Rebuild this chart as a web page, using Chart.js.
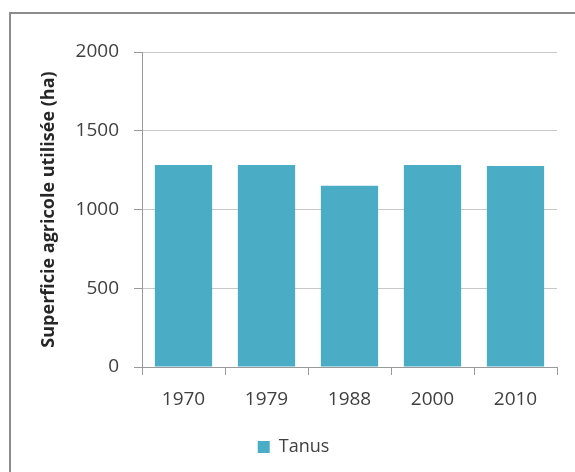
<!DOCTYPE html>
<html>
<head>
<meta charset="utf-8">
<script src="https://cdn.jsdelivr.net/npm/chart.js@4/dist/chart.umd.min.js"></script>
<style>
    body { margin: 0; background: #fff; }
    #wrap { position: relative; width: 575px; height: 472px; }
    #frame {
        position: absolute; left: 9px; top: 12px; right: 0; bottom: 0;
        border-top: 2px solid #8c8c8c; border-left: 2px solid #8c8c8c;
    }
    canvas { position: absolute; left: 0; top: 0; }
</style>
</head>
<body>
<div id="wrap">
    <div id="frame"></div>
    <canvas id="chart" width="575" height="472"></canvas>
</div>
<script>
const years = ["1970", "1979", "1988", "2000", "2010"];
const surface = [1283, 1283, 1151, 1283, 1276];
const seriesName = "Tanus";
const yTitle = "Superficie agricole utilisée (ha)";

const font = "'Open Sans', sans-serif";
const textColor = "#404040";

new Chart(document.getElementById("chart"), {
    type: "bar",
    data: {
        labels: years,
        datasets: [{
            label: seriesName,
            data: surface,
            backgroundColor: "#4bacc6",
            barPercentage: 0.69,
            categoryPercentage: 1
        }]
    },
    options: {
        responsive: false,
        animation: false,
        layout: { padding: { left: 30, right: 18, top: 52, bottom: 6 } },
        plugins: {
            legend: {
                position: "bottom",
                labels: {
                    font: { family: font, size: 18 },
                    color: textColor,
                    boxWidth: 12,
                    boxHeight: 12,
                    padding: 10
                }
            },
            tooltip: { enabled: false }
        },
        scales: {
            x: {
                grid: { display: true, drawOnChartArea: false, color: "#9a9a9a", tickLength: 8 },
                border: { color: "#9a9a9a" },
                ticks: { font: { family: font, size: 19 }, color: textColor, padding: 13 },
                afterFit: s => { s.height = 61; }
            },
            y: {
                min: 0,
                max: 2000,
                ticks: {
                    stepSize: 500,
                    font: { family: font, size: 19 },
                    color: textColor,
                    padding: 15,
                    callback: v => String(v)
                },
                grid: { color: "#c8c8c8", tickLength: 8, tickColor: "#9a9a9a" },
                border: { color: "#9a9a9a" },
                title: {
                    display: true,
                    text: yTitle,
                    font: { family: font, size: 18, weight: "bold" },
                    color: "#262626",
                    padding: { top: 8, bottom: 0 }
                },
                afterFit: s => { s.width = 112; }
            }
        }
    }
});
</script>
</body>
</html>
